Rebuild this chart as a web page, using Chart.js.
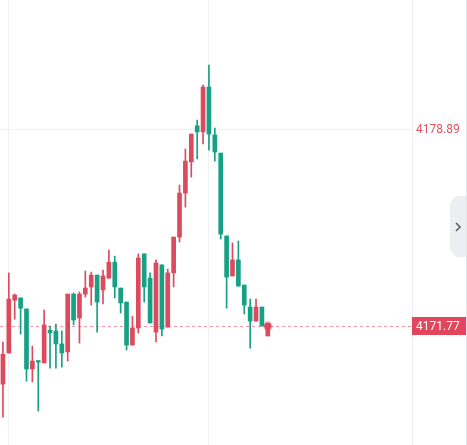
<!DOCTYPE html>
<html>
<head>
<meta charset="utf-8">
<script src="https://cdn.jsdelivr.net/npm/chart.js@4.4.0/dist/chart.umd.min.js"></script>
<style>
  html, body { margin: 0; padding: 0; background: #fff; }
  canvas { display: block; }
</style>
</head>
<body>
<canvas id="kline" width="467" height="445"></canvas>
<script>
// ── Datos de velas (rojo = sube, verde = baja) ─────────────────
const opens  = [4169.66, 4170.79, 4172.71, 4172.79, 4172.39, 4170.21, 4170.50, 4170.43, 4171.62, 4171.59,
                4171.12, 4170.83, 4172.93, 4172.06, 4172.93, 4173.19, 4173.62, 4173.08, 4173.51, 4174.09,
                4173.15, 4172.64, 4171.08, 4171.70, 4174.39, 4173.51, 4171.55, 4173.99, 4171.73, 4173.70,
                4175.00, 4176.60, 4177.73, 4179.04, 4178.82, 4180.45, 4178.71, 4178.05, 4175.04, 4173.59,
                4174.17, 4173.26, 4172.46, 4171.95, 4172.46, 4171.41];
const closes = [4170.75, 4172.75, 4172.90, 4172.42, 4170.21, 4170.50, 4170.46, 4171.81, 4171.52, 4171.12,
                4170.79, 4172.93, 4171.99, 4172.93, 4173.15, 4173.62, 4172.64, 4173.59, 4174.09, 4173.19,
                4172.61, 4171.08, 4171.70, 4174.24, 4173.19, 4171.88, 4174.06, 4171.66, 4173.70, 4175.00,
                4176.60, 4177.76, 4178.74, 4178.82, 4180.45, 4178.74, 4178.09, 4175.11, 4173.55, 4174.17,
                4173.22, 4172.53, 4171.95, 4172.46, 4171.77, 4171.77];
const highs  = [4171.19, 4173.70, 4172.93, 4172.79, 4172.39, 4171.04, 4170.53, 4172.35, 4171.77, 4171.84,
                4171.59, 4172.93, 4172.97, 4173.01, 4173.77, 4173.73, 4173.62, 4173.80, 4174.53, 4174.31,
                4173.15, 4172.64, 4172.13, 4174.39, 4174.39, 4173.70, 4174.17, 4173.99, 4173.84, 4175.00,
                4176.89, 4178.20, 4178.74, 4179.25, 4180.52, 4181.25, 4178.96, 4178.05, 4175.04, 4174.79,
                4174.86, 4173.26, 4172.75, 4172.75, 4172.46, 4171.77];
const lows   = [4168.46, 4170.79, 4172.02, 4171.48, 4169.77, 4169.74, 4168.68, 4170.43, 4170.24, 4170.24,
                4170.28, 4170.50, 4171.81, 4171.15, 4172.82, 4172.53, 4171.55, 4172.57, 4173.51, 4172.79,
                4172.24, 4170.90, 4171.08, 4171.52, 4172.64, 4171.88, 4171.19, 4171.41, 4171.73, 4173.19,
                4174.82, 4176.09, 4177.18, 4177.84, 4178.38, 4178.16, 4177.76, 4174.93, 4172.42, 4173.59,
                4173.22, 4172.21, 4170.97, 4171.95, 4171.77, 4171.41];
const slots  = 70;           // huecos del eje x (velas + espacio futuro)
const yTicks = [4178.89];
const xGrid  = [1, 35];
const lastPrice = closes[closes.length - 1];

const labels = Array.from({ length: slots }, (_, i) => i);
const UP = '#dc4a5e', DOWN = '#16a084';
const colors = opens.map((o, i) => closes[i] >= o ? UP : DOWN);
const wickData = lows.map((l, i) => [l, highs[i]]);
const bodyData = opens.map((o, i) => [o, closes[i]]);
const lastDot = opens.map((_, i) => i === opens.length - 1 ? lastPrice : null);

// ── Línea de último precio + etiqueta + pestaña lateral ─────────
const overlay = {
  id: 'overlay',
  beforeDatasetsDraw(chart) {
    const { ctx, chartArea, scales } = chart;
    const y = Math.round(scales.y.getPixelForValue(lastPrice)) + 0.5;
    ctx.save();
    ctx.strokeStyle = '#ee98a3';
    ctx.lineWidth = 1;
    ctx.setLineDash([3, 3]);
    ctx.beginPath();
    ctx.moveTo(0, y);
    ctx.lineTo(chartArea.right, y);
    ctx.stroke();
    ctx.restore();
  },
  afterDraw(chart) {
    const { ctx, chartArea, scales } = chart;
    const y = Math.round(scales.y.getPixelForValue(lastPrice));
    ctx.save();
    // etiqueta de precio
    ctx.fillStyle = '#e0465c';
    ctx.fillRect(chartArea.right, y - 9, 54, 18);
    ctx.fillStyle = '#fff';
    ctx.font = '12px Roboto, "Noto Sans", sans-serif';
    ctx.textBaseline = 'middle';
    ctx.textAlign = 'left';
    ctx.fillText(lastPrice.toFixed(2), chartArea.right + 4, y + 0.5);
    // borde derecho
    ctx.fillStyle = '#e3e5e8';
    ctx.fillRect(466, 0, 1, 445);
    // pestaña "›"
    ctx.fillStyle = '#eceef1';
    ctx.beginPath();
    ctx.moveTo(466, 196);
    ctx.lineTo(456, 196);
    ctx.lineTo(450, 203);
    ctx.lineTo(450, 250);
    ctx.lineTo(456, 257);
    ctx.lineTo(466, 257);
    ctx.closePath();
    ctx.fill();
    ctx.strokeStyle = '#555b66';
    ctx.lineWidth = 1.5;
    ctx.beginPath();
    ctx.moveTo(456, 223);
    ctx.lineTo(460, 227);
    ctx.lineTo(456, 231);
    ctx.stroke();
    ctx.restore();
  }
};

new Chart(document.getElementById('kline'), {
  data: {
    labels,
    datasets: [
      { type: 'bar', data: wickData, backgroundColor: colors, barThickness: 1, minBarLength: 1, grouped: false, order: 3 },
      { type: 'bar', data: bodyData, backgroundColor: colors, barThickness: 4, minBarLength: 1.5, grouped: false, order: 2 },
      { type: 'line', data: lastDot, showLine: false, pointRadius: 3.5,
        pointBackgroundColor: UP, pointBorderColor: 'rgba(224,70,92,0.3)', pointBorderWidth: 3, order: 1 }
    ]
  },
  options: {
    responsive: false,
    animation: false,
    layout: { autoPadding: false, padding: { left: -1.44, right: 0, top: 0, bottom: 0 } },
    plugins: { legend: { display: false }, tooltip: { enabled: false } },
    scales: {
      x: {
        type: 'category', offset: true,
        grid: { offset: false, drawTicks: false,
                color: c => (c.tick && xGrid.includes(c.tick.value)) ? '#f0f1f3' : 'rgba(0,0,0,0)' },
        border: { display: false },
        ticks: { display: false, autoSkip: false },
        afterFit: s => { s.height = 0; s.paddingLeft = 0; s.paddingRight = 0; }
      },
      y: {
        position: 'right', min: 4167.45, max: 4183.61,
        grid: { color: '#eef0f2', drawTicks: false },
        border: { display: true, color: '#eceef1' },
        ticks: { color: '#e0505f', padding: 4, font: { size: 12, family: 'Roboto, "Noto Sans", sans-serif' },
                 callback: v => Number(v).toFixed(2) },
        afterBuildTicks: s => { s.ticks = yTicks.map(v => ({ value: v })); },
        afterFit: s => { s.width = 55; s.paddingTop = 0; s.paddingBottom = 0; }
      }
    }
  },
  plugins: [overlay]
});
</script>
</body>
</html>
